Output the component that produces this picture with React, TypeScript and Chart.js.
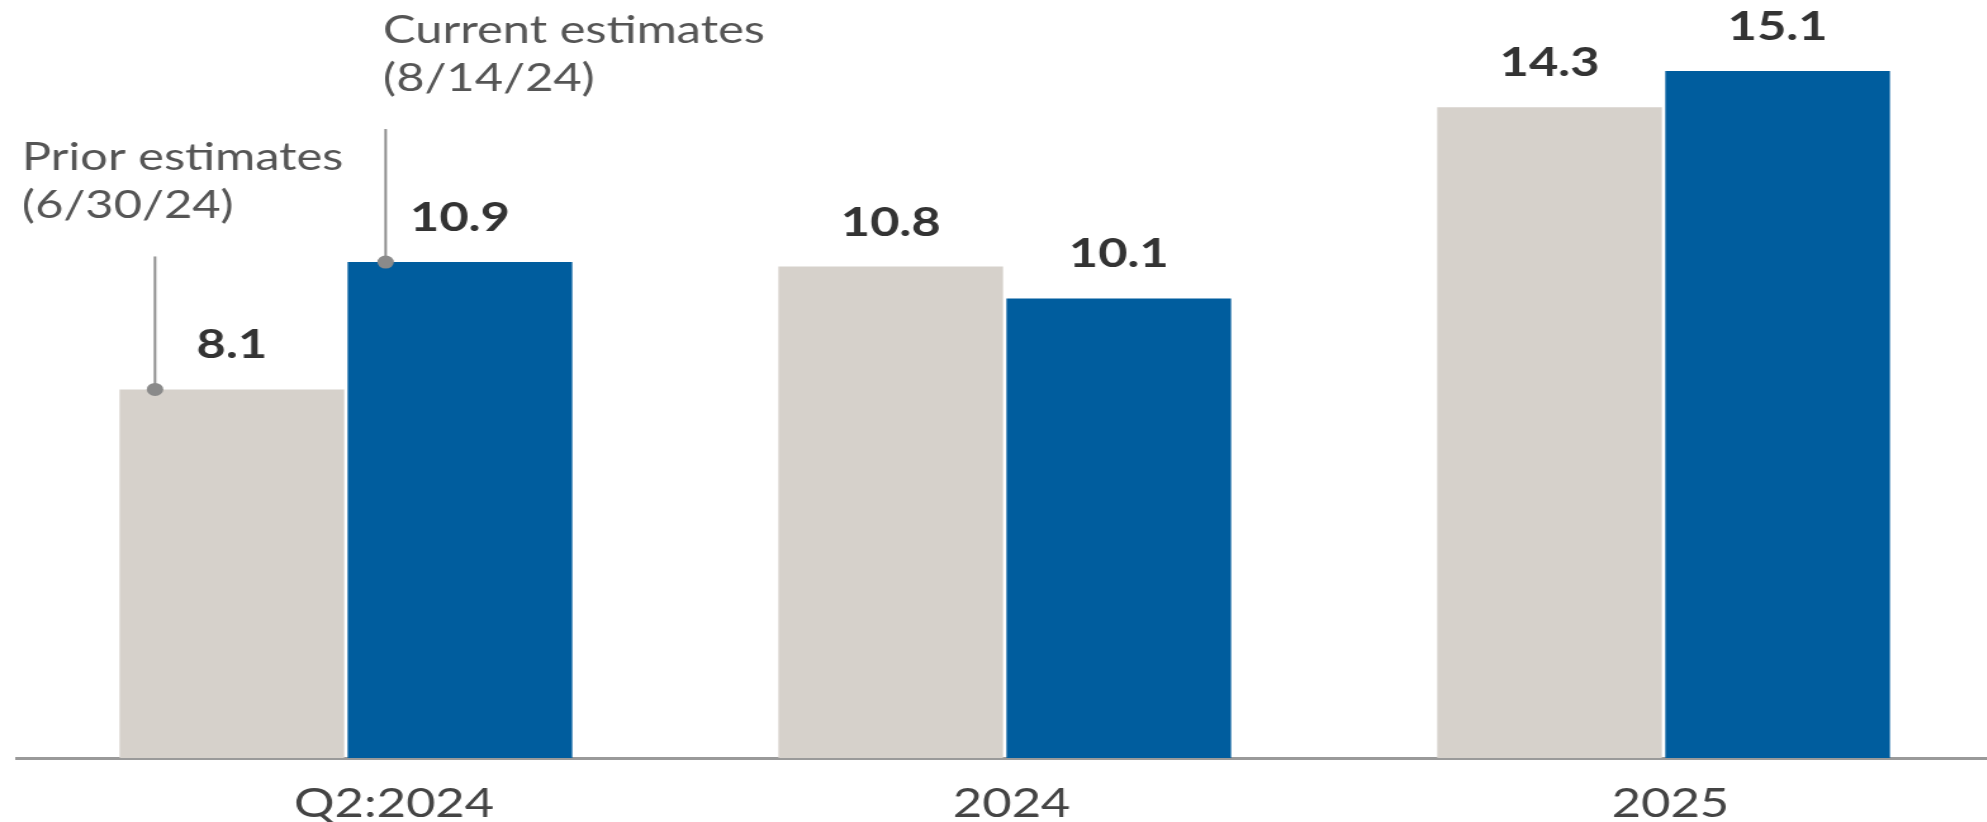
import React, { useEffect, useRef } from "react";
import { Chart, registerables } from "chart.js";

Chart.register(...registerables);

// ---- data ----
const categories = ["Q2:2024", "2024", "2025"];
const priorEstimates = [8.1, 10.8, 14.3];
const currentEstimates = [10.9, 10.1, 15.1];
const seriesNames = ["Prior estimates (6/30/24)", "Current estimates (8/14/24)"];
const priorCallout = ["Prior estimates", "(6/30/24)"];
const currentCallout = ["Current estimates", "(8/14/24)"];
const yMin = 0;
const yMax = 16;

// ---- look ----
const PRIOR_COLOR = "#d6d1cb";
const CURRENT_COLOR = "#005d9e";
const FONT = "Lato, 'Open Sans', 'DejaVu Sans', sans-serif";
// the reference is horizontally stretched: draw on a narrower buffer, display wider
const BUF_W = 1573;
const BUF_H = 822;
const STRETCH = 1987 / 1568;

const callouts = [
  { dataset: 0, index: 0, lines: priorCallout, leaderDx: 28, textDx: -105 },
  { dataset: 1, index: 0, lines: currentCallout, leaderDx: 30, textDx: -2 },
];

const overlayPlugin = {
  id: "overlay",
  afterDatasetsDraw(chart: any) {
    const ctx: CanvasRenderingContext2D = chart.ctx;
    // value labels
    chart.data.datasets.forEach((ds: any, di: number) => {
      const meta = chart.getDatasetMeta(di);
      meta.data.forEach((bar: any, i: number) => {
        ctx.save();
        ctx.font = `bold 40px ${FONT}`;
        ctx.fillStyle = "#333333";
        ctx.textAlign = "center";
        ctx.textBaseline = "alphabetic";
        ctx.fillText(Number(ds.data[i]).toFixed(1), bar.x, bar.y - 31);
        ctx.restore();
      });
    });
    // callouts with leader lines
    callouts.forEach((c) => {
      const bar: any = chart.getDatasetMeta(c.dataset).data[c.index];
      if (!bar) return;
      const lx = bar.x - bar.width / 2 + c.leaderDx;
      const top = bar.y - 133;
      ctx.save();
      ctx.strokeStyle = "#8e8e8e";
      ctx.lineWidth = 2;
      ctx.beginPath();
      ctx.moveTo(lx, top);
      ctx.lineTo(lx, bar.y);
      ctx.stroke();
      ctx.fillStyle = "#8a8a8a";
      ctx.beginPath();
      ctx.arc(lx, bar.y, 6.5, 0, Math.PI * 2);
      ctx.fill();
      ctx.font = `38.5px ${FONT}`;
      ctx.fillStyle = "#555555";
      ctx.textAlign = "left";
      ctx.textBaseline = "alphabetic";
      ctx.fillText(c.lines[0], lx + c.textDx, top - 86);
      ctx.fillText(c.lines[1], lx + c.textDx, top - 38);
      ctx.restore();
    });
  },
};

export default function App() {
  const ref = useRef<HTMLCanvasElement | null>(null);

  useEffect(() => {
    if (!ref.current) return;
    const chart = new Chart(ref.current, {
      type: "bar",
      data: {
        labels: categories,
        datasets: [
          {
            label: seriesNames[0],
            data: priorEstimates,
            backgroundColor: PRIOR_COLOR,
            borderWidth: 0,
            barPercentage: 0.985,
            categoryPercentage: 0.6923,
          },
          {
            label: seriesNames[1],
            data: currentEstimates,
            backgroundColor: CURRENT_COLOR,
            borderWidth: 0,
            barPercentage: 0.985,
            categoryPercentage: 0.6923,
          },
        ],
      },
      options: {
        responsive: false,
        devicePixelRatio: 1,
        animation: false,
        layout: { padding: { top: 30, left: 13, right: 0, bottom: -28 } },
        plugins: {
          legend: { display: false },
          tooltip: { enabled: false },
        },
        scales: {
          x: {
            grid: { display: false, drawTicks: false },
            border: { display: true, color: "#9a9a9a", width: 3 },
            ticks: {
              color: "#444444",
              font: { family: FONT, size: 40, lineHeight: 0.9 },
              padding: 28,
              align: "start",
              labelOffset: -41,
            },
          },
          y: {
            display: false,
            min: yMin,
            max: yMax,
          },
        },
      },
      plugins: [overlayPlugin],
    });
    return () => chart.destroy();
  }, []);

  return (
    <div
      style={{
        position: "fixed",
        left: 0,
        top: 0,
        width: 1987,
        height: 822,
        overflow: "hidden",
        background: "#ffffff",
      }}
    >
      <canvas
        ref={ref}
        width={BUF_W}
        height={BUF_H}
        style={{ width: `${BUF_W * STRETCH}px`, height: `${BUF_H}px`, display: "block" }}
      />
    </div>
  );
}
